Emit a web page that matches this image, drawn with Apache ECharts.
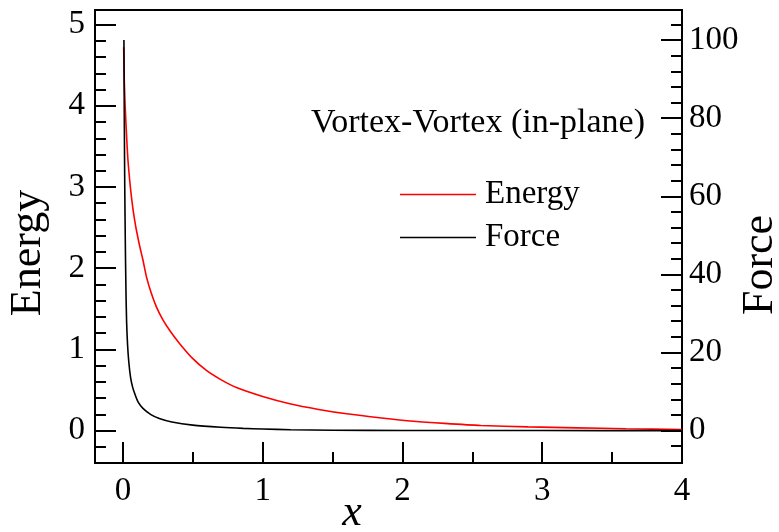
<!DOCTYPE html>
<html>
<head>
<meta charset="utf-8">
<title>Vortex-Vortex (in-plane)</title>
<script src="https://cdn.jsdelivr.net/npm/echarts@6/dist/echarts.min.js"></script>
<style>
  html, body { margin: 0; padding: 0; background: #fff; }
  #chart { width: 779px; height: 532px; }
</style>
</head>
<body>
<div id="chart"></div>
<script>
// Interaction energy between two in-plane vortices and the force between them
const energyX = [0.005, 0.01, 0.017, 0.024, 0.035, 0.053, 0.07, 0.084, 0.096, 0.12, 0.143, 0.17, 0.203, 0.24, 0.287, 0.34, 0.406, 0.5, 0.597, 0.7, 0.812, 1.0, 1.194, 1.4, 1.6, 1.85, 2.08, 2.3, 2.56, 2.9, 3.25, 3.6, 4.0];
const energyY = [4.72, 4.28, 3.95, 3.70, 3.35, 3.00, 2.75, 2.59, 2.47, 2.27, 2.10, 1.88, 1.69, 1.52, 1.36, 1.22, 1.07, 0.885, 0.74, 0.627, 0.53, 0.42, 0.33, 0.26, 0.206, 0.155, 0.115, 0.088, 0.062, 0.045, 0.033, 0.022, 0.012];

const forceX = [0.007, 0.010, 0.013, 0.017, 0.021, 0.026, 0.033, 0.042, 0.055, 0.07, 0.084, 0.11, 0.143, 0.2, 0.26, 0.35, 0.5, 0.7, 0.86, 1.0, 1.2, 1.5, 2.0, 3.0, 4.0];
const forceY = [100, 78, 62, 48, 37, 28, 22, 17.5, 13.5, 11, 9.5, 7.2, 5.7, 4.1, 3.1, 2.2, 1.4, 0.85, 0.56, 0.40, 0.22, 0.10, 0.03, 0.005, 0.0];

// Tick labels
const xTicks = [0, 1, 2, 3, 4];
const energyTicks = [0, 1, 2, 3, 4, 5];
const forceTicks = [0, 20, 40, 60, 80, 100];

// Minor tick positions
const xMinor = [0.5, 1.5, 2.5, 3.5];
const energyMinor = [];
for (let i = -1; i <= 25; i++) { if (i % 5 !== 0) energyMinor.push(+(i * 0.2).toFixed(1)); }
const forceMinor = [];
for (let i = -1; i <= 26; i++) { if (i % 5 !== 0) forceMinor.push(i * 4); }

const seriesNames = ['Energy', 'Force'];
const titleText = 'Vortex-Vortex (in-plane)';

const FONT = '"Liberation Serif", "Times New Roman", serif';
const AX = { color: '#000', width: 2 };

const xRange = { min: -0.2, max: 4 };
const eRange = { min: -0.4, max: 5.18 };
const fRange = { min: -8.3, max: 107.7 };

function majorAxis(range, pos, ticks, labelMargin) {
  return Object.assign({
    type: 'value', position: pos,
    axisLine: { show: true, onZero: false, lineStyle: AX },
    axisTick: { show: true, inside: true, length: 21, customValues: ticks, lineStyle: AX },
    axisLabel: { show: true, customValues: ticks, color: '#000', fontFamily: FONT, fontSize: 33, margin: labelMargin },
    splitLine: { show: false }
  }, range);
}
function minorAxis(range, pos, ticks) {
  return Object.assign({
    type: 'value', position: pos,
    axisLine: { show: false, onZero: false },
    axisTick: { show: true, inside: true, length: 11, customValues: ticks, lineStyle: AX },
    axisLabel: { show: false },
    splitLine: { show: false }
  }, range);
}

const chart = echarts.init(document.getElementById('chart'), null, { renderer: 'canvas' });
chart.setOption({
  animation: false,
  backgroundColor: '#fff',
  grid: { left: 95, top: 10, width: 587, height: 453, show: true, borderColor: '#000', borderWidth: 2, backgroundColor: 'transparent', containLabel: false },
  title: {
    text: titleText, right: 134, top: 106, padding: 0,
    textStyle: { fontFamily: FONT, fontSize: 34, fontWeight: 'normal', color: '#000', lineHeight: 34 }
  },
  legend: {
    data: seriesNames, orient: 'vertical', left: 400, top: 178, padding: 0,
    icon: 'rect', itemWidth: 76, itemHeight: 1.5, itemGap: 10,
    textStyle: { fontFamily: FONT, fontSize: 33, color: '#000', lineHeight: 33, padding: [0, 0, 0, 4] }
  },
  xAxis: [
    majorAxis(xRange, 'bottom', xTicks, 12),
    minorAxis(xRange, 'bottom', xMinor)
  ],
  yAxis: [
    majorAxis(eRange, 'left', energyTicks, 10),
    majorAxis(fRange, 'right', forceTicks, 7),
    minorAxis(eRange, 'left', energyMinor),
    minorAxis(fRange, 'right', forceMinor)
  ],
  graphic: [
    { type: 'text', x: 28, y: 253, rotation: Math.PI / 2,
      style: { text: 'Energy', font: '44px ' + FONT, fill: '#000', align: 'center', verticalAlign: 'middle' } },
    { type: 'text', x: 760, y: 265, rotation: Math.PI / 2,
      style: { text: 'Force', font: '44px ' + FONT, fill: '#000', align: 'center', verticalAlign: 'middle' } },
    { type: 'text', x: 352, y: 513,
      style: { text: 'x', font: 'italic 44px ' + FONT, fill: '#000', align: 'center', verticalAlign: 'middle' } }
  ],
  series: [
    {
      name: seriesNames[0], type: 'line', xAxisIndex: 0, yAxisIndex: 0,
      data: energyX.map((x, i) => [x, energyY[i]]),
      showSymbol: false, smooth: 0.25,
      lineStyle: { color: '#ff0000', width: 1.6 }, itemStyle: { color: '#ff0000' }, z: 3
    },
    {
      name: seriesNames[1], type: 'line', xAxisIndex: 0, yAxisIndex: 1,
      data: forceX.map((x, i) => [x, forceY[i]]),
      showSymbol: false, smooth: 0.25,
      lineStyle: { color: '#000', width: 1.6 }, itemStyle: { color: '#000' }, z: 4
    }
  ]
});
</script>
</body>
</html>
